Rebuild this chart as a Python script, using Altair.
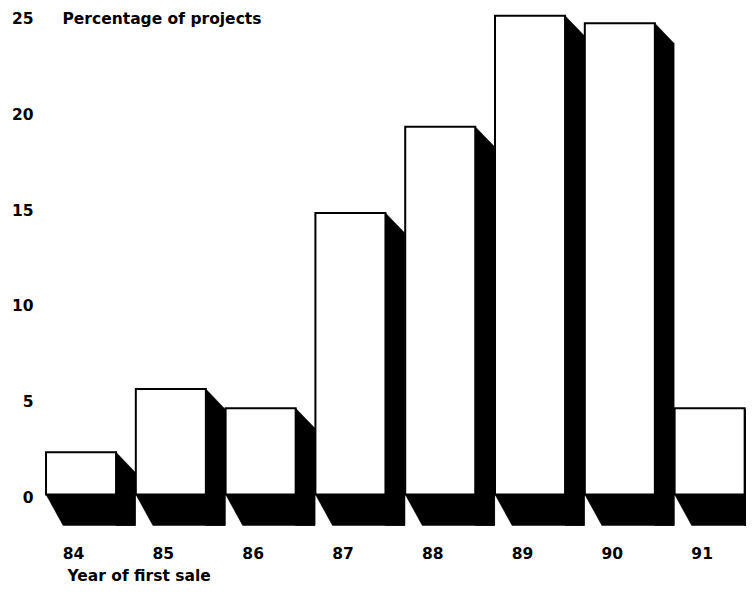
import altair as alt
import pandas as pd

# ---- data ----
years = [84, 85, 86, 87, 88, 89, 90, 91]
pct = [2.2, 5.5, 4.5, 14.7, 19.2, 25.0, 24.6, 4.5]
y_ticks = [0, 5, 10, 15, 20, 25]
y_title = "Percentage of projects"
x_title = "Year of first sale"

# ---- geometry constants (data units) ----
HW = 0.39      # half bar width
SDX = 0.215    # side-shadow depth (x)
SDY = 1.05     # side-shadow drop (y)
DEPTH = 1.62   # floor-shadow depth (y below zero)
FDX = 0.19     # floor-shadow left slant (x)

FONT = "DejaVu Sans"
FS = 15.5

base = pd.DataFrame({"year": years, "pct": pct})
ends = pd.DataFrame({"k": [0, 1]})
pairs = base.merge(ends, how="cross")

xs = alt.Scale(domain=[83.543, 91.405], nice=False, zero=False)
ys = alt.Scale(domain=[-1.65, 25.4], nice=False, zero=False)

x_axis = alt.Axis(
    values=years, format="d", labelFont=FONT, labelFontSize=FS, labelFontWeight="bold",
    labelColor="black", labelOffset=-8, labelPadding=27, labelBaseline="middle",
    ticks=False, tickSize=0, domain=False, grid=False,
    title=x_title, titleFont=FONT, titleFontSize=FS, titleFontWeight="bold",
    titleColor="black", titleAlign="left", titleBaseline="middle",
    titleX=27, titleY=49, titleAnchor="start",
)
y_axis = alt.Axis(
    values=y_ticks, labelFont=FONT, labelFontSize=FS, labelFontWeight="bold",
    labelColor="black", labelAlign="right", labelBaseline="middle", labelOffset=3,
    labelPadding=7, ticks=False, tickSize=0, domain=False, grid=False,
    title=y_title, titleFont=FONT, titleFontSize=FS, titleFontWeight="bold",
    titleColor="black", titleAngle=0, titleAlign="left", titleBaseline="middle",
    titleX=22, titleY=10,
)

# side shadow (vertical area per bar)
side = alt.Chart(pairs).transform_calculate(
    sx=f"datum.year + {HW} + datum.k * {SDX}",
    sy=f"datum.pct - datum.k * {SDY}",
    sy2=f"-{DEPTH}",
).mark_area(fill="black", stroke="black", strokeWidth=0.5).encode(
    x=alt.X("sx:Q", scale=xs, axis=x_axis),
    y=alt.Y("sy:Q", scale=ys, axis=y_axis),
    y2="sy2:Q",
    detail="year:N",
)

# floor shadow (horizontal area per bar)
floor = alt.Chart(pairs).transform_calculate(
    fy=f"0 - datum.k * {DEPTH}",
    fx=f"datum.year - {HW} + datum.k * {FDX}",
    fx2=f"datum.year + {HW} + {SDX}",
).mark_area(fill="black", stroke="black", strokeWidth=0.5, orient="horizontal").encode(
    y=alt.Y("fy:Q", scale=ys),
    x=alt.X("fx:Q", scale=xs),
    x2="fx2:Q",
    detail="year:N",
)

bars = alt.Chart(base).transform_calculate(
    bx=f"datum.year - {HW}",
    bx2=f"datum.year + {HW}",
    by="0",
).mark_rect(fill="white", stroke="black", strokeWidth=2).encode(
    x=alt.X("bx:Q", scale=xs),
    x2="bx2:Q",
    y=alt.Y("by:Q", scale=ys),
    y2="pct:Q",
)

chart = alt.layer(side, floor, bars).properties(
    width=706, height=518,
    autosize=alt.AutoSizeParams(type="none"),
    padding={"left": 32, "top": 0, "right": 0, "bottom": 60},
    background="white",
).configure_view(stroke=None)

chart.save("out.html", embed_options={"renderer": "svg", "actions": False})
